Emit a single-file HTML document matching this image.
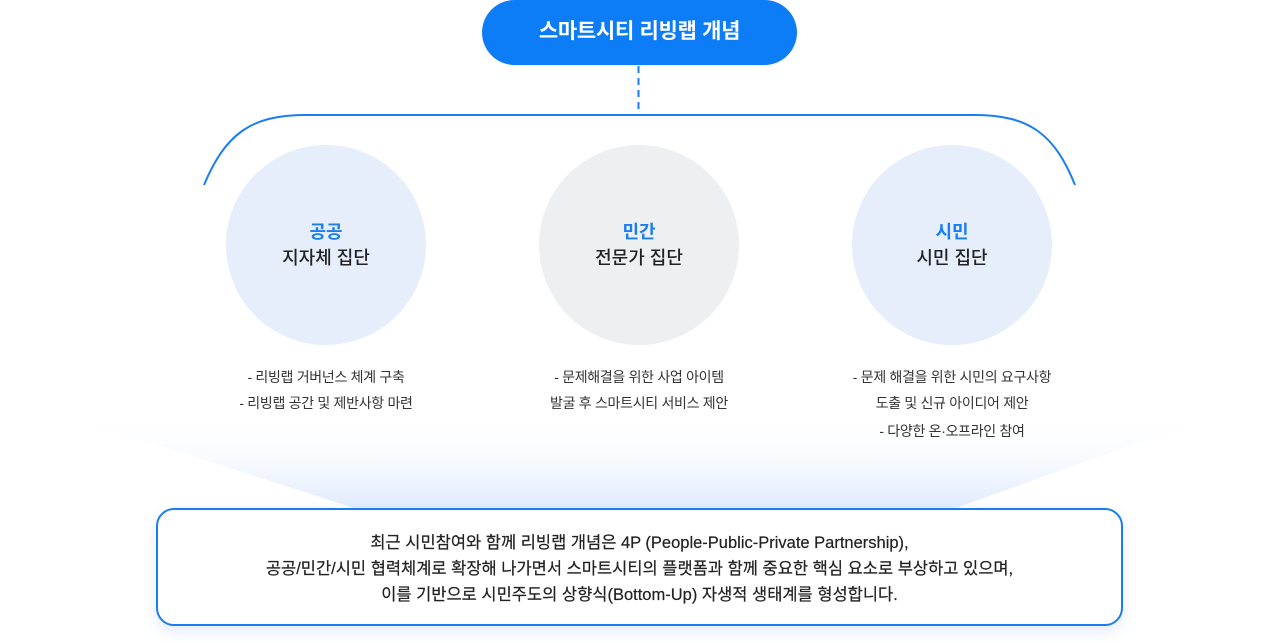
<!DOCTYPE html>
<html><head><meta charset="utf-8"><style>
body{margin:0;width:1280px;height:643px;background:#fff;position:relative;overflow:hidden;font-family:"Liberation Sans","Noto Sans CJK KR",sans-serif;color:#222}
.a{position:absolute}
.pill{left:482px;top:0;width:315px;height:65px;border-radius:33px;background:#0d7cf7;color:#fff;font-size:21px;font-weight:bold;text-align:center;line-height:64px;letter-spacing:-0.3px}
.c{width:200px;height:200px;border-radius:50%;top:145px;text-align:center}
.c b{display:block;margin-top:74px;color:#1a7df0;font-size:18px;line-height:26px}
.c span{display:block;font-size:18px;line-height:26px;font-weight:500;color:#222}
.l{width:300px;text-align:center;font-size:14px;color:#333;letter-spacing:-0.3px}
.box{left:156px;top:508px;width:963px;height:114px;border:2px solid #1a7df0;border-radius:18px;background:#fff;box-shadow:0 6px 14px rgba(80,130,220,0.15);text-align:center;font-size:16.5px;line-height:26px;color:#222;letter-spacing:0px;-webkit-text-stroke:0.2px #222}
</style></head><body>
<svg class="a" style="left:0;top:0" width="1280" height="643">
<defs><linearGradient id="g" x1="0" y1="0" x2="0" y2="1"><stop offset="0" stop-color="#fff" stop-opacity="0"/><stop offset="1" stop-color="#dfeafd"/></linearGradient></defs>
<polygon points="50,410 1230,410 950,510 360,510" fill="url(#g)"/>
<line x1="638.5" y1="66" x2="638.5" y2="110" stroke="#1a7df0" stroke-width="2" stroke-dasharray="7,5"/>
<path d="M204,185 C225,135 250,115 305,115 L975,115 C1030,115 1055,135 1075,185" fill="none" stroke="#1a7df0" stroke-width="2"/>
</svg>
<div class="a pill">스마트시티 리빙랩 개념</div>
<div class="a c" style="left:226px;background:#e6eefb"><b>공공</b><span>지자체 집단</span></div>
<div class="a c" style="left:539px;background:#eeeff1"><b>민간</b><span>전문가 집단</span></div>
<div class="a c" style="left:852px;background:#e6eefb"><b>시민</b><span>시민 집단</span></div>
<div class="a l" style="left:176px;top:364px;line-height:26px">- 리빙랩 거버넌스 체계 구축<br>- 리빙랩 공간 및 제반사항 마련</div>
<div class="a l" style="left:489px;top:364px;line-height:26px">- 문제해결을 위한 사업 아이템<br>발굴 후 스마트시티 서비스 제안</div>
<div class="a l" style="left:802px;top:364px;line-height:26px">- 문제 해결을 위한 시민의 요구사항<br>도출 및 신규 아이디어 제안<div style="margin-top:2px">- 다양한 온·오프라인 참여</div></div>
<div class="a box"><div style="margin-top:20px">최근 시민참여와 함께 리빙랩 개념은 4P (People-Public-Private Partnership),<br>공공/민간/시민 협력체계로 확장해 나가면서 스마트시티의 플랫폼과 함께 중요한 핵심 요소로 부상하고 있으며,<br>이를 기반으로 시민주도의 상향식(Bottom-Up) 자생적 생태계를 형성합니다.</div></div>
</body></html>
